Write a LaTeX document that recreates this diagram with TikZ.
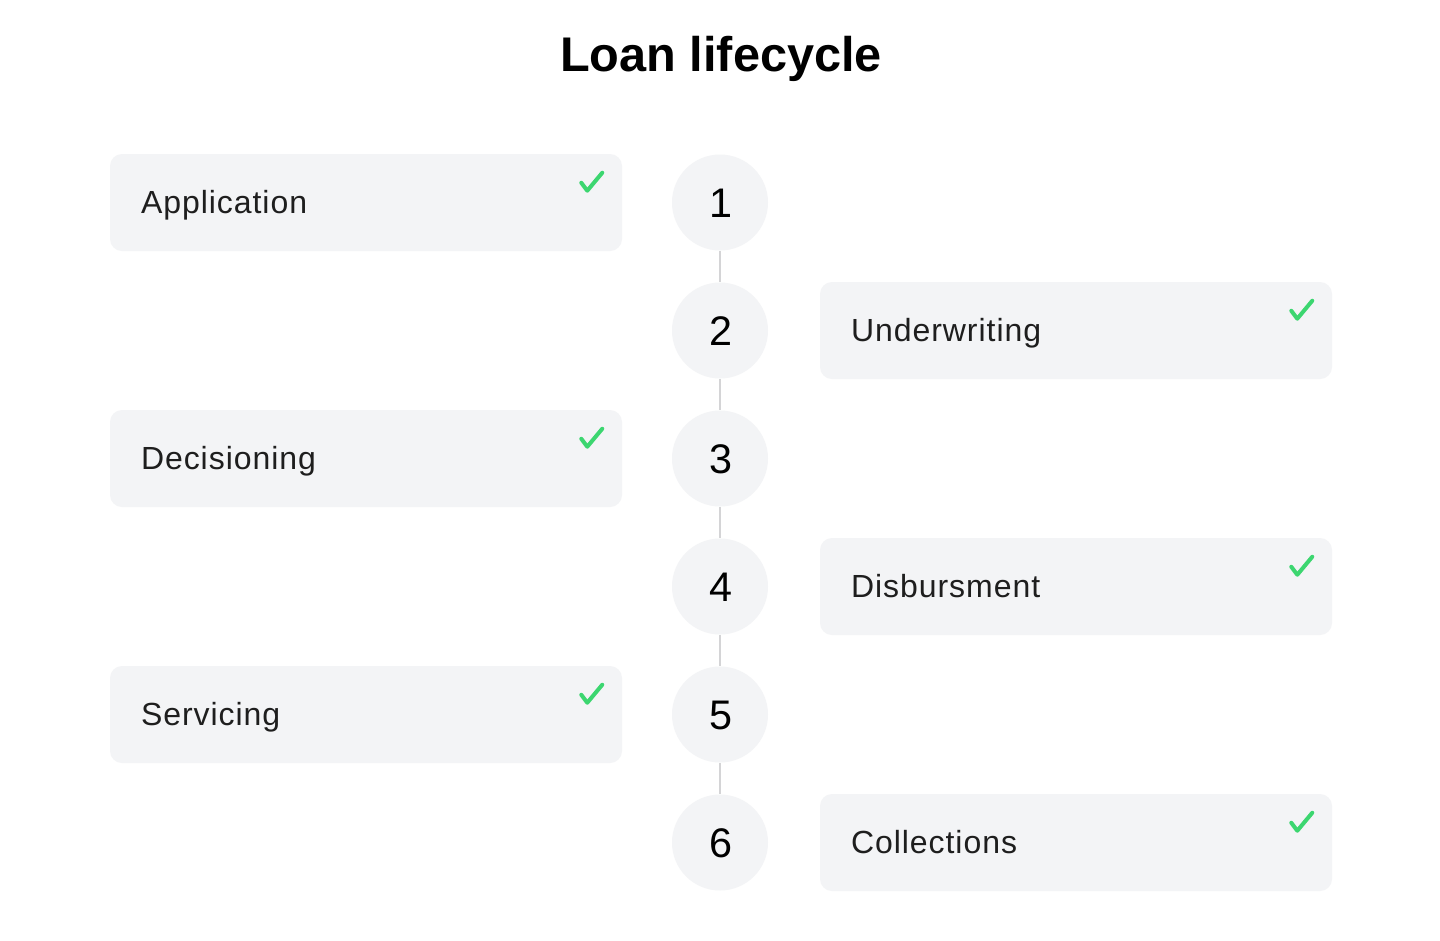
\documentclass[tikz,border=0pt]{standalone}
\usepackage{fontspec}
\setmainfont{Liberation Sans}
\newfontfamily\labelfont[LetterSpace=3]{Liberation Sans}
\begin{document}
\begin{tikzpicture}[x=0.75pt,y=-0.75pt,
  box/.style={fill=boxgray, rounded corners=9pt, minimum height=72.75pt, text width=337.5pt, inner xsep=23.25pt, inner ysep=0pt, text height=17.2pt, text depth=0pt, align=left, font=\labelfont\fontsize{24}{28}\selectfont, text=txtdark, anchor=center},
  num/.style={circle, fill=boxgray, minimum size=72pt, inner sep=0pt, text height=22.2pt, text depth=0pt, font=\fontsize{31}{34}\selectfont, text=black},
  link/.style={draw=linegray, line width=1.5pt},
  tick/.style={draw=checkgreen, line width=3pt, line cap=round, line join=round}]
\definecolor{boxgray}{HTML}{F3F4F6}
\definecolor{linegray}{HTML}{D4D4D6}
\definecolor{checkgreen}{HTML}{3CD670}
\definecolor{txtdark}{HTML}{1E1E1E}
\useasboundingbox (0,0) rectangle (1440,940);
\fill[white] (0,0) rectangle (1440,940);
\node[font=\bfseries\fontsize{36.5}{40}\selectfont] (title) at (721,59) {Loan lifecycle};
\foreach \i/\y in {1/202.5,2/330.5,3/458.5,4/586.5,5/714.5,6/842.5}
  \node[num] (n\i) at (720,\y) {\hspace*{1.5pt}\i};
\foreach \a/\b in {1/2,2/3,3/4,4/5,5/6}
  \draw[link] (n\a) -- (n\b);
\node[box] (b1) at (366,202.5) {Application};
\node[box] (b2) at (1076,330.5) {Underwriting};
\node[box] (b3) at (366,458.5) {Decisioning};
\node[box] (b4) at (1076,586.5) {Disbursment};
\node[box] (b5) at (366,714.5) {Servicing};
\node[box] (b6) at (1076,842.5) {Collections};
\foreach \i in {1,...,6}
  \draw[tick] ([shift={(-41,29)}]b\i.north east) -- ([shift={(-35,37)}]b\i.north east) -- ([shift={(-20,19)}]b\i.north east);
\end{tikzpicture}
\end{document}
